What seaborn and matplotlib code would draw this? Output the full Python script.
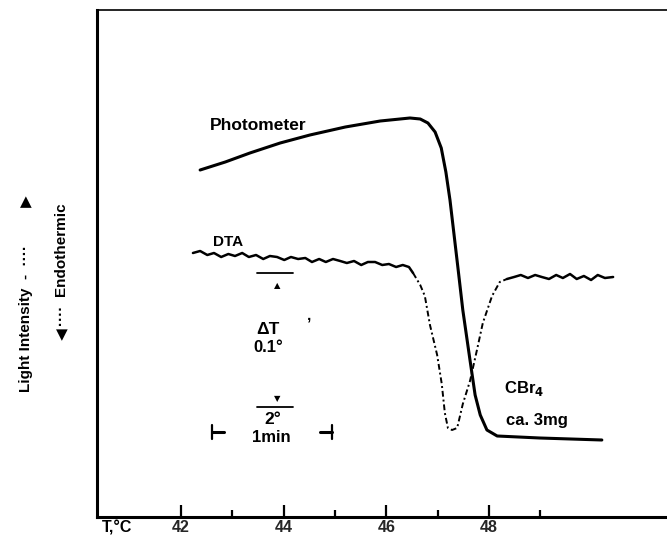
import matplotlib
matplotlib.use("Agg")
import matplotlib.pyplot as plt
import seaborn as sns
import pandas as pd
from matplotlib.ticker import FixedLocator

# ---------------- data ----------------
photo_T = [42.37, 42.86, 43.34, 43.93, 44.51, 45.20, 45.88, 46.46, 46.66, 46.81,
           46.95, 47.07, 47.16, 47.24, 47.32, 47.40, 47.49, 47.63, 47.73, 47.83,
           47.96, 48.16, 48.99, 50.20]
photo_v = [347, 355, 364, 374, 382, 390, 396, 399, 398, 394,
           385, 369, 345, 317, 282, 247, 207, 157, 122, 102,
           87, 81, 79, 77]

dta_left_T = [42.23, 42.37, 42.51, 42.64, 42.78, 42.92, 43.05, 43.19, 43.32, 43.46,
              43.60, 43.73, 43.87, 44.01, 44.14, 44.28, 44.42, 44.55, 44.69, 44.82,
              44.96, 45.10, 45.23, 45.37, 45.51, 45.64, 45.78, 45.92, 46.05, 46.19,
              46.32, 46.44, 46.52]
dta_left_v = [264, 266, 262, 264, 260, 263, 261, 264, 260, 262,
              258, 261, 260, 257, 260, 258, 259, 255, 258, 255,
              258, 256, 254, 256, 252, 255, 255, 252, 253, 250,
              252, 250, 244]

dta_peak_T = [46.52, 46.66, 46.75, 46.85, 46.99, 47.08, 47.14, 47.20, 47.28, 47.38,
              47.49, 47.63, 47.77, 47.88, 48.06, 48.21, 48.35]
dta_peak_v = [244, 232, 221, 192, 162, 133, 104, 89, 87, 89,
              113, 136, 168, 194, 221, 235, 238]

dta_right_T = [48.35, 48.49, 48.62, 48.76, 48.90, 49.03, 49.17, 49.31, 49.44, 49.58,
               49.71, 49.85, 49.99, 50.12, 50.26, 50.42]
dta_right_v = [238, 240, 242, 239, 242, 240, 238, 242, 239, 243,
               238, 241, 237, 242, 239, 240]

major_ticks = [42, 44, 46, 48]
minor_ticks = [43, 45, 47, 49]
tick_labels = ["42", "44", "46", "48"]

# ---------------- figure ----------------
sns.set_theme(style="white")
plt.rcParams["font.family"] = ["Liberation Sans", "DejaVu Sans"]
plt.rcParams["font.weight"] = "bold"

fig = plt.figure(figsize=(6.67, 5.37), dpi=100)
ax = fig.add_axes([97 / 667, 20 / 537, 1 - 97 / 667, (517 - 10) / 537])

photo = pd.DataFrame({"T": photo_T, "v": photo_v})
d_left = pd.DataFrame({"T": dta_left_T, "v": dta_left_v})
d_peak = pd.DataFrame({"T": dta_peak_T, "v": dta_peak_v})
d_right = pd.DataFrame({"T": dta_right_T, "v": dta_right_v})

sns.lineplot(data=photo, x="T", y="v", sort=False, color="black", lw=2.2, ax=ax)
sns.lineplot(data=d_left, x="T", y="v", sort=False, color="black", lw=1.8, ax=ax)
sns.lineplot(data=d_peak, x="T", y="v", sort=False, color="black", lw=1.4,
             linestyle=(0, (3, 1.5, 1, 1.5)), ax=ax)
sns.lineplot(data=d_right, x="T", y="v", sort=False, color="black", lw=1.8, ax=ax)

ax.set_xlim(40.36, 51.47)
ax.set_ylim(0, 507)
ax.set_xlabel("")
ax.set_ylabel("")
ax.set_yticks([])
ax.xaxis.set_major_locator(FixedLocator(major_ticks))
ax.xaxis.set_minor_locator(FixedLocator(minor_ticks))
ax.set_xticklabels(tick_labels, fontsize=11.5, fontweight="bold")
ax.tick_params(axis="x", which="major", direction="in", length=9, width=1.6,
               color="black", pad=2, bottom=True)
ax.tick_params(axis="x", which="minor", direction="in", length=5, width=1.6,
               color="black", bottom=True)

for s in ["left", "bottom"]:
    ax.spines[s].set_color("black")
    ax.spines[s].set_linewidth(2.2)
ax.spines["top"].set_color("black")
ax.spines["top"].set_linewidth(1.2)
ax.spines["right"].set_visible(False)

# ---------------- annotations ----------------
kw = dict(color="black", fontweight="bold", ha="center", va="center")
ax.text(43.50, 392, "Photometer", fontsize=12.5, **kw)
ax.text(42.92, 275, "DTA", fontsize=11, **kw)

# delta T scale
ax.plot([43.48, 44.18], [244, 244], color="black", lw=1.3)
ax.text(43.87, 231, "▲", fontsize=6, family=["DejaVu Sans"], **kw)
ax.text(43.70, 188, "ΔT", fontsize=12.5, **kw)
ax.text(43.70, 169, "0.1°", fontsize=12, **kw)
ax.text(44.50, 202, ",", fontsize=11, **kw)

# temperature / time scale
ax.text(43.87, 118, "▼", fontsize=6, family=["DejaVu Sans"], **kw)
ax.plot([43.48, 44.18], [110, 110], color="black", lw=1.3)
ax.text(43.78, 98, "2°", fontsize=12.5, **kw)
ax.text(43.75, 80, "1min", fontsize=12, **kw)
ax.plot([42.60, 42.60], [78, 92], color="black", lw=1.6)
ax.plot([42.60, 42.83], [85, 85], color="black", lw=2.2)
ax.plot([44.94, 44.94], [78, 92], color="black", lw=1.6)
ax.plot([44.70, 44.94], [85, 85], color="black", lw=2.2)

ax.text(48.68, 129, "CBr$_\\mathbf{4}$", fontsize=12, **kw)
ax.text(48.94, 97, "ca. 3mg", fontsize=12, **kw)

# axis captions
fig.text(117 / 667, 1 - 528 / 537, "T,°C", fontsize=11.5, **kw)
fig.text(26 / 667, 1 - 392 / 537, "Light Intensity  -  ····", rotation=90,
         fontsize=11, color="black", fontweight="bold", ha="center", va="bottom")
fig.text(26 / 667, 1 - 202 / 537, "▲", fontsize=11, family=["DejaVu Sans"], **kw)
fig.text(62 / 667, 1 - 335 / 537, "▼", fontsize=11, family=["DejaVu Sans"], **kw)
fig.text(62 / 667, 1 - 326 / 537, "····  Endothermic", rotation=90,
         fontsize=11, color="black", fontweight="bold", ha="center", va="bottom")

fig.savefig("out.png", dpi=100)
